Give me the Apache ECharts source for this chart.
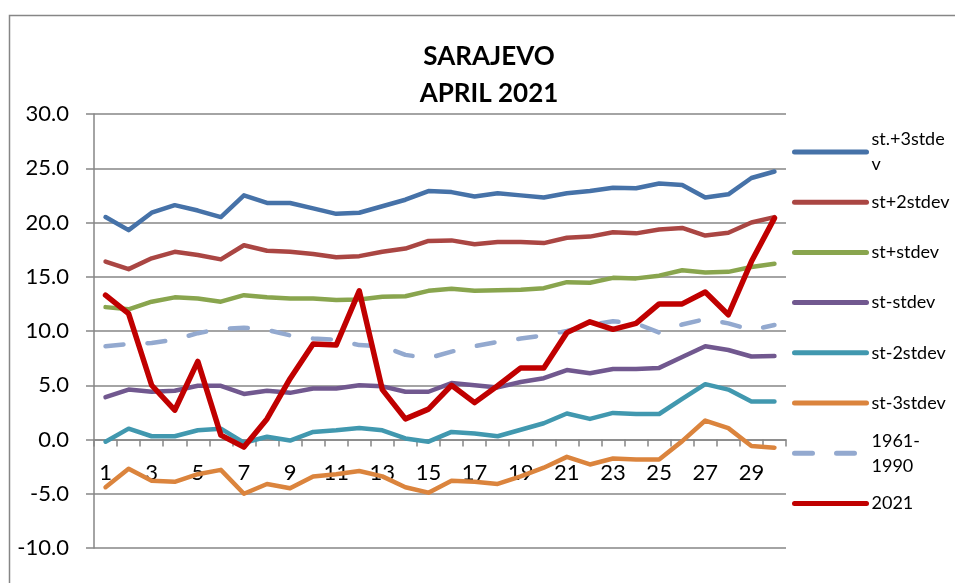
<!DOCTYPE html>
<html>
<head>
<meta charset="utf-8">
<script src="https://cdn.jsdelivr.net/npm/echarts@6/dist/echarts.min.js"></script>
<style>
  html, body { margin: 0; padding: 0; background: #fff; }
  #myChart { width: 955px; height: 583px; }
</style>
</head>
<body>
<div id="myChart"></div>
<script>
// 日期 1..30
const days = ['1','2','3','4','5','6','7','8','9','10','11','12','13','14','15','16','17','18','19','20','21','22','23','24','25','26','27','28','29','30'];
const yTicks = [-10, -5, 0, 5, 10, 15, 20, 25, 30];

const st3 = [20.5, 19.3, 20.9, 21.6, 21.1, 20.5, 22.5, 21.8, 21.8, 21.3, 20.8, 20.9, 21.5, 22.1, 22.9, 22.8, 22.4, 22.7, 22.5, 22.3, 22.7, 22.9, 23.2, 23.15, 23.6, 23.45, 22.3, 22.6, 24.1, 24.7];
const st2 = [16.4, 15.7, 16.7, 17.3, 17.0, 16.6, 17.9, 17.4, 17.3, 17.1, 16.8, 16.9, 17.3, 17.6, 18.3, 18.35, 18.0, 18.2, 18.2, 18.1, 18.6, 18.7, 19.1, 19.0, 19.35, 19.5, 18.8, 19.05, 20.0, 20.5];
const st1 = [12.2, 12.0, 12.7, 13.1, 13.0, 12.7, 13.3, 13.1, 13.0, 13.0, 12.85, 12.9, 13.15, 13.2, 13.7, 13.9, 13.7, 13.75, 13.8, 13.95, 14.5, 14.45, 14.9, 14.85, 15.1, 15.6, 15.4, 15.45, 15.9, 16.2];
const stm1 = [3.9, 4.6, 4.4, 4.5, 4.95, 4.95, 4.2, 4.5, 4.3, 4.7, 4.7, 5.0, 4.9, 4.4, 4.4, 5.2, 5.0, 4.8, 5.3, 5.65, 6.4, 6.1, 6.5, 6.5, 6.6, 7.6, 8.6, 8.25, 7.65, 7.7];
const stm2 = [-0.2, 1.0, 0.3, 0.3, 0.85, 1.0, -0.3, 0.25, -0.1, 0.7, 0.85, 1.05, 0.85, 0.1, -0.2, 0.7, 0.55, 0.3, 0.9, 1.5, 2.4, 1.9, 2.45, 2.35, 2.35, 3.75, 5.1, 4.6, 3.5, 3.5];
const stm3 = [-4.4, -2.7, -3.8, -3.9, -3.2, -2.8, -5.0, -4.1, -4.5, -3.4, -3.2, -2.9, -3.4, -4.4, -4.9, -3.8, -3.9, -4.1, -3.4, -2.6, -1.6, -2.3, -1.75, -1.85, -1.85, -0.15, 1.75, 1.05, -0.6, -0.75];
const normal = [8.6, 8.8, 8.9, 9.2, 9.8, 10.2, 10.3, 10.1, 9.6, 9.3, 9.2, 8.7, 8.6, 7.8, 7.5, 8.1, 8.6, 9.0, 9.3, 9.6, 10.0, 10.55, 10.9, 10.7, 9.85, 10.6, 11.1, 10.7, 10.1, 10.55];
const y2021 = [13.3, 11.6, 5.0, 2.7, 7.2, 0.4, -0.7, 1.9, 5.6, 8.8, 8.7, 13.7, 4.6, 1.9, 2.8, 5.0, 3.4, 4.95, 6.6, 6.6, 9.85, 10.85, 10.15, 10.7, 12.5, 12.5, 13.6, 11.5, 16.4, 20.4];

const names = ['st.+3stdev', 'st+2stdev', 'st+stdev', 'st-stdev', 'st-2stdev', 'st-3stdev', '1961-1990', '2021'];
const colors = ['#4672A8', '#AA4643', '#89A54E', '#71588F', '#4198AF', '#DB843D', '#93A9CF', '#C00000'];
const values = [st3, st2, st1, stm1, stm2, stm3, normal, y2021];
// 图例换行
const labelText = {
  'st.+3stdev': 'st.+3stde\nv',
  '1961-1990': '1961-\n1990'
};

const font = 'Lato, "Open Sans", sans-serif';
const axisColor = '#868686';
const gridTop = 114;
const gridBottom = 35;
const plotHeight = 583 - gridTop - gridBottom;
const yMin = yTicks[0];
const yMax = yTicks[yTicks.length - 1];
// x轴放在 0 的位置
const xAxisOffset = -((0 - yMin) / (yMax - yMin)) * plotHeight;

const setOption = () => {
  const legends = names.map((name, i) => {
    const twoLines = !!labelText[name];
    const center = 152 + 50.2 * i;
    return {
      data: [name],
      left: 792,
      top: center - (twoLines ? 37.5 : 12.5),
      padding: 0,
      itemWidth: 72,
      itemHeight: 14,
      formatter: (n) => labelText[n] || n,
      textStyle: {
        fontFamily: font,
        fontSize: 18,
        color: '#000',
        lineHeight: 25,
        padding: twoLines ? [25, 0, 0, 0] : 0
      },
      itemStyle: { opacity: 0 },
      lineStyle: { width: 5, cap: 'round' }
    };
  });

  return {
    animation: false,
    title: {
      text: 'SARAJEVO\nAPRIL 2021',
      left: 489,
      top: 38,
      textAlign: 'center',
      padding: 0,
      textStyle: {
        fontFamily: font,
        fontSize: 26,
        fontWeight: 'bold',
        color: '#000',
        lineHeight: 37
      }
    },
    legend: legends,
    grid: {
      left: 94,
      right: 169,
      top: gridTop,
      bottom: gridBottom,
      containLabel: false
    },
    xAxis: {
      type: 'category',
      data: days,
      boundaryGap: true,
      offset: xAxisOffset,
      axisLine: {
        show: true,
        onZero: false,
        lineStyle: { color: axisColor, width: 1.5 }
      },
      axisTick: {
        show: true,
        interval: 0,
        length: 7,
        lineStyle: { color: axisColor, width: 1.5 }
      },
      axisLabel: {
        interval: 1,
        margin: 22,
        fontFamily: font,
        fontSize: 22,
        color: '#000'
      },
      splitLine: { show: false }
    },
    yAxis: {
      type: 'value',
      min: yMin,
      max: yMax,
      interval: 5,
      axisLine: {
        show: true,
        lineStyle: { color: axisColor, width: 1.5 }
      },
      axisTick: {
        show: true,
        length: 8,
        lineStyle: { color: axisColor, width: 1.5 }
      },
      axisLabel: {
        margin: 25,
        fontFamily: font,
        fontSize: 22,
        color: '#000',
        formatter: (v) => v.toFixed(1)
      },
      splitLine: {
        show: true,
        lineStyle: { color: axisColor, width: 1.5 }
      }
    },
    graphic: [
      {
        type: 'rect',
        shape: { x: 9.5, y: 15.5, width: 960, height: 600 },
        style: { fill: 'none', stroke: axisColor, lineWidth: 1.5 },
        silent: true
      }
    ],
    series: names.map((name, i) => ({
      name: name,
      type: 'line',
      data: values[i],
      symbol: 'none',
      color: colors[i],
      z: 2 + i,
      lineStyle: {
        color: colors[i],
        width: name === '2021' ? 5.5 : 4.5,
        type: name === '1961-1990' ? [18, 24] : 'solid',
        cap: 'round',
        join: 'round'
      }
    }))
  };
};

const myChart = echarts.init(document.getElementById('myChart'), null, { renderer: 'canvas' });
myChart.setOption(setOption());
</script>
</body>
</html>
